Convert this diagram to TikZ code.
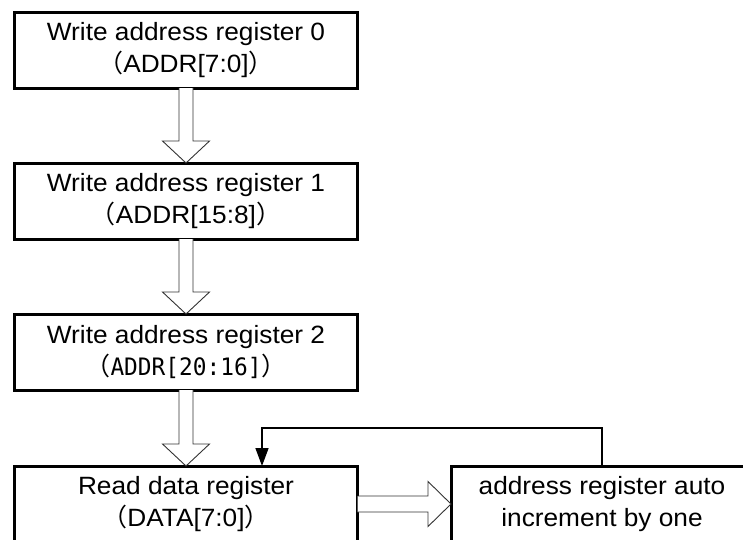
\documentclass[tikz,border=0pt]{standalone}
\usepackage{fontspec}
\setmainfont[FakeStretch=1.05]{Liberation Sans}
\newfontfamily\cjk{Noto Sans CJK SC}
\newfontfamily\monoc[FakeStretch=0.95]{DejaVu Sans Mono}
\usetikzlibrary{calc,arrows.meta}
\begin{document}
\begin{tikzpicture}[x=1pt,y=-1pt,
  box/.style={draw,line width=3pt,minimum width=343pt,minimum height=76pt,inner sep=0pt,outer sep=0pt,align=center,font=\fontsize{25}{32}\selectfont},
  hollow/.style={draw=black!80,line width=0.9pt,fill=white,line join=miter},
  fb/.style={line width=1.5pt,-{Triangle[length=18pt,width=13pt]}}]
\useasboundingbox (0,0) rectangle (743,539);
\clip (0,0) rectangle (743,539);
\node[box] (b1) at (186,50) {Write address register 0\\{\cjk （}ADDR[7:0]{\cjk ）}};
\node[box] (b2) at (186,201) {Write address register 1\\{\cjk （}ADDR[15:8]{\cjk ）}};
\node[box] (b3) at (186,352) {Write address register 2\\{\cjk （}{\monoc\fontsize{24}{32}\selectfont ADDR[20:16]}{\cjk ）}};
\node[box] (b4) at (186,504) {Read data register\\{\cjk （}DATA[7:0]{\cjk ）}};
\node[box,minimum width=302pt] (b5) at (602,504) {address register auto\\increment by one};
% hollow down arrows
\foreach \a/\b in {b1/b2,b2/b3,b3/b4}{
  \draw[hollow] ($(\a.south)+(-7,0)$) -- ($(\b.north)+(-7,-22)$) -- ($(\b.north)+(-23.5,-22)$) -- (\b.north)
    -- ($(\b.north)+(23.5,-22)$) -- ($(\b.north)+(7,-22)$) -- ($(\a.south)+(7,0)$);
}
% hollow right arrow
\draw[hollow] ($(b4.east)+(0,-8)$) -- ($(b5.west)+(-23,-8)$) -- ($(b5.west)+(-23,-22.5)$) -- (b5.west)
  -- ($(b5.west)+(-23,22.5)$) -- ($(b5.west)+(-23,8)$) -- ($(b4.east)+(0,8)$);
% feedback
\coordinate (fbc) at ($(b4.north)+(76,-38)$);
\draw[fb] (b5.north) |- (fbc) -- (fbc |- b4.north);
\end{tikzpicture}
\end{document}
